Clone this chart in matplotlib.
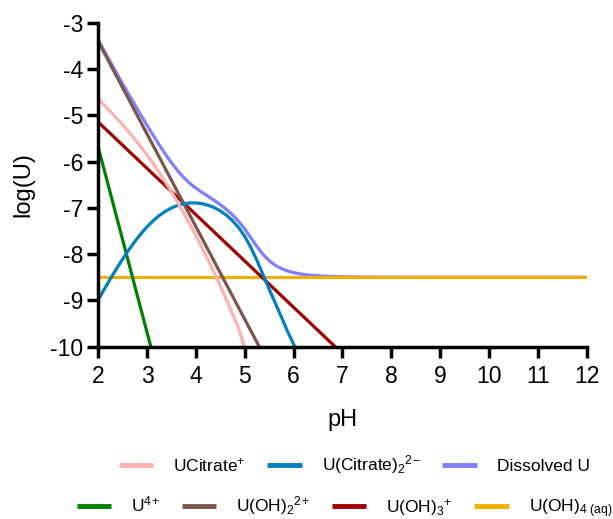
import matplotlib
matplotlib.use("Agg")
import matplotlib.pyplot as plt
from matplotlib.lines import Line2D

plt.rcParams["font.family"] = ["Liberation Sans", "DejaVu Sans"]
plt.rcParams["mathtext.fontset"] = "custom"
plt.rcParams["mathtext.rm"] = "Liberation Sans"
plt.rcParams["mathtext.it"] = "Liberation Sans:italic"
plt.rcParams["mathtext.default"] = "regular"

# ======================================
# SPECIATION DATA  (log concentration vs pH)
# ======================================
ph_ucit = [2.0, 2.125, 2.25, 2.375, 2.5, 2.625, 2.75, 2.875, 3.0, 3.125, 3.25, 3.375,
           3.5, 3.625, 3.75, 3.875, 4.0, 4.125, 4.25, 4.375, 4.5, 4.625, 4.75, 4.875,
           4.99]
log_ucit = [-4.650, -4.785, -4.923, -5.065, -5.211, -5.363, -5.521, -5.688, -5.863,
            -6.048, -6.242, -6.446, -6.660, -6.883, -7.115, -7.356, -7.606, -7.864,
            -8.131, -8.407, -8.693, -8.989, -9.295, -9.612, -10.0]

ph_ucit2 = [2.0, 2.125, 2.25, 2.375, 2.5, 2.625, 2.75, 2.875, 3.0, 3.125, 3.25, 3.375,
            3.5, 3.625, 3.75, 3.875, 4.0, 4.125, 4.25, 4.375, 4.5, 4.625, 4.75, 4.875,
            5.0, 5.125, 5.25, 5.375, 5.5, 5.625, 5.75, 5.875, 6.0, 6.02]
log_ucit2 = [-8.982, -8.752, -8.528, -8.311, -8.104, -7.908, -7.724, -7.558, -7.408,
             -7.277, -7.166, -7.074, -7.002, -6.948, -6.912, -6.895, -6.894, -6.910,
             -6.944, -6.996, -7.068, -7.16, -7.28, -7.43, -7.62, -7.86, -8.14, -8.45,
             -8.76, -9.06, -9.36, -9.67, -9.95, -10.0]

ph_diss = [2.0, 2.125, 2.25, 2.375, 2.5, 2.625, 2.75, 2.875, 3.0, 3.125, 3.25, 3.375,
           3.5, 3.625, 3.75, 3.875, 4.0, 4.125, 4.25, 4.375, 4.5, 4.625, 4.75, 4.875,
           5.0, 5.125, 5.25, 5.375, 5.5, 5.625, 5.75, 5.875, 6.0, 6.125, 6.25, 6.375,
           6.5, 6.75, 7.0, 7.5, 8.0, 9.0, 10.0, 11.0, 12.0]
log_diss = [-3.376, -3.618, -3.856, -4.092, -4.325, -4.554, -4.780, -5.003, -5.221,
            -5.435, -5.644, -5.843, -6.030, -6.198, -6.346, -6.471, -6.576, -6.668,
            -6.753, -6.839, -6.932, -7.035, -7.155, -7.295, -7.459, -7.647, -7.838,
            -8.010, -8.144, -8.242, -8.313, -8.365, -8.400, -8.426, -8.445, -8.459,
            -8.469, -8.483, -8.490, -8.497, -8.499, -8.5, -8.5, -8.5, -8.5]

ph_u4 = [2.0, 3.075]
log_u4 = [-5.7, -10.0]

ph_uoh2 = [2.0, 5.295]
log_uoh2 = [-3.41, -10.0]

ph_uoh3 = [2.0, 6.85]
log_uoh3 = [-5.15, -10.0]

ph_uoh4 = [2.0, 12.0]
log_uoh4 = [-8.5, -8.5]

# legend text for each species
lbl_ucit = "UCitrate$^{+}$"
lbl_ucit2 = "U(Citrate)$_{2}$$^{2}$$^{-}$"
lbl_diss = "Dissolved U"
lbl_u4 = "U$^{4}$$^{+}$"
lbl_uoh2 = "U(OH)$_{2}$$^{2}$$^{+}$"
lbl_uoh3 = "U(OH)$_{3}$$^{+}$"
lbl_uoh4 = "U(OH)$_{4\\ (aq)}$"

# ======================================
# FIGURE
# ======================================
fig = plt.figure(figsize=(6.13, 5.19), dpi=100)
ax = fig.add_axes([0.1604, 0.332, 0.7966, 0.6243])

lw = 2.3
ax.plot(ph_diss, log_diss, color="#8080FF", lw=lw, label=lbl_diss)
ax.plot(ph_uoh4, log_uoh4, color="#EBB000", lw=lw, label=lbl_uoh4)
ax.plot(ph_uoh3, log_uoh3, color="#A00000", lw=lw, label=lbl_uoh3)
ax.plot(ph_uoh2, log_uoh2, color="#7A574A", lw=lw, label=lbl_uoh2)
ax.plot(ph_u4, log_u4, color="#008000", lw=lw, label=lbl_u4)
ax.plot(ph_ucit2, log_ucit2, color="#0080C0", lw=lw, label=lbl_ucit2)
ax.plot(ph_ucit, log_ucit, color="#FFB0B0", lw=lw, label=lbl_ucit)

ax.set_xlim(2, 12)
ax.set_ylim(-10, -3)
ax.set_xticks(range(2, 13))
ax.set_yticks(range(-10, -2))
ax.set_yticklabels([str(v) for v in range(-10, -2)])

for side in ["top", "right"]:
    ax.spines[side].set_visible(False)
for side in ["left", "bottom"]:
    ax.spines[side].set_linewidth(2.5)

ax.tick_params(axis="both", direction="out", length=8, width=2.5, labelsize=16.5)
ax.tick_params(axis="x", pad=5)
ax.tick_params(axis="y", pad=3)

ax.set_xlabel("pH", fontsize=17, labelpad=15)
ax.set_ylabel("log(U)", fontsize=17, labelpad=11)

# ======================================
# LEGEND (two rows)
# ======================================
handles = {h.get_label(): h for h in ax.get_lines()}
row1 = [lbl_ucit, lbl_ucit2, lbl_diss]
row2 = [lbl_u4, lbl_uoh2, lbl_uoh3, lbl_uoh4]

def make_handle(line):
    return Line2D([], [], color=line.get_color(), lw=3.5, solid_capstyle="butt")

leg_kw = dict(frameon=False, fontsize=12.5, handlelength=2.0, handletextpad=1.15,
              columnspacing=1.25, loc="center")
fig.legend([make_handle(handles[k]) for k in row1], row1, ncol=3,
           bbox_to_anchor=(0.578, 0.104), **leg_kw)
fig.legend([make_handle(handles[k]) for k in row2], row2, ncol=4,
           bbox_to_anchor=(0.562, 0.023), **leg_kw)

fig.savefig("out.png", dpi=100)
